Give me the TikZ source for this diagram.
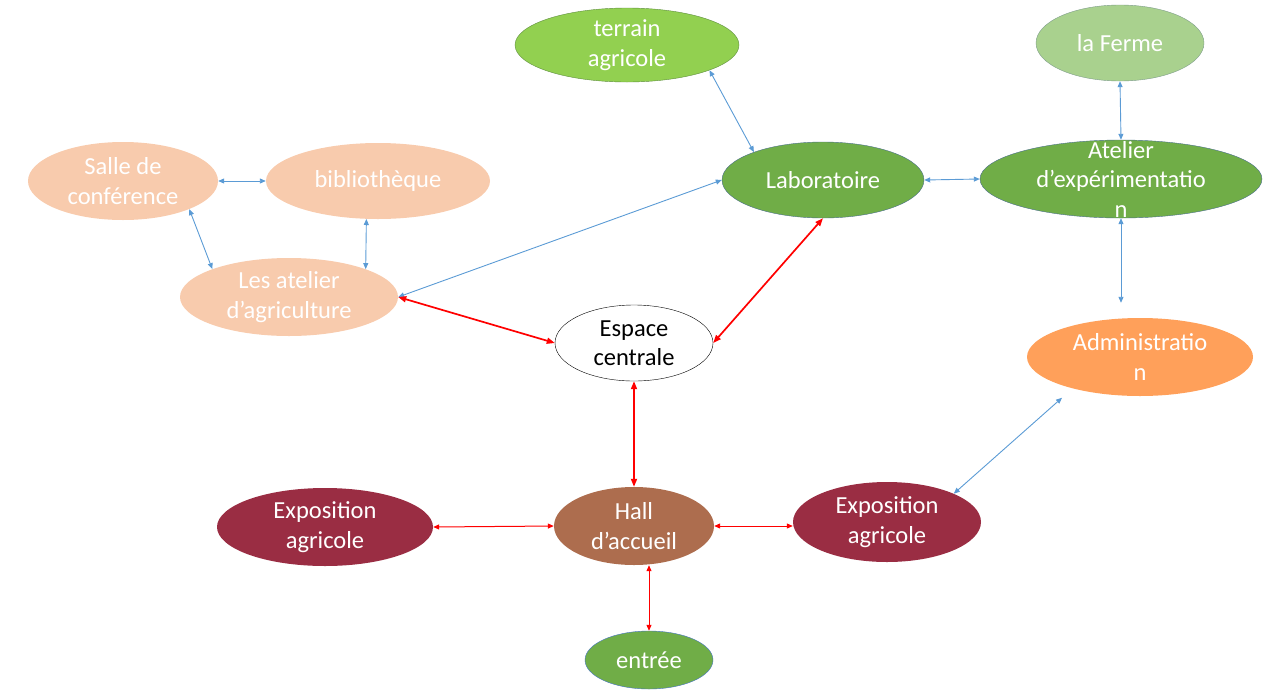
\documentclass[tikz,border=0pt]{standalone}
\usepackage{fontspec}
\setmainfont{Carlito}
\usetikzlibrary{arrows.meta,shapes.geometric}
\definecolor{PlanPeach}{HTML}{F8CBAD}
\definecolor{PlanLime}{HTML}{92D050}
\definecolor{PlanLimeEdge}{HTML}{5E8E3E}
\definecolor{PlanSage}{HTML}{A9D18E}
\definecolor{PlanSageEdge}{HTML}{7D9C8A}
\definecolor{PlanGreen}{HTML}{70AD47}
\definecolor{PlanGreenEdge}{HTML}{4A6F8A}
\definecolor{PlanOrange}{HTML}{FFA05A}
\definecolor{PlanWine}{HTML}{9A2D43}
\definecolor{PlanBrown}{HTML}{AD6D4E}
\definecolor{PlanBlue}{HTML}{5B9BD5}
\definecolor{PlanEdgeBlue}{HTML}{4472C4}
\definecolor{PlanRed}{HTML}{FF0000}
\tikzset{
  every node/.style={font=\fontsize{24.5}{29.5}\selectfont},
  room/.style 2 args={ellipse, inner sep=0pt, minimum width=#1, minimum height=#2},
  roomtext/.style={text=white, align=center},
  link/.style={{Triangle[length=6pt,width=5pt]}-{Triangle[length=6pt,width=5pt]}, draw=PlanBlue, line width=0.9pt},
  mainlink/.style={{Triangle[length=8pt,width=6pt]}-{Triangle[length=8pt,width=6pt]}, draw=PlanRed, line width=1.7pt},
  sidelink/.style={{Triangle[length=6pt,width=5pt]}-{Triangle[length=6pt,width=5pt]}, draw=PlanRed, line width=1pt},
}

\begin{document}
\begin{tikzpicture}[x=1pt,y=-1pt]
  % page = 1288 x 689, y grows downwards
  \useasboundingbox (0,0) rectangle (1288,689);
  % left wing
  \node[room={190pt}{78pt}, fill=PlanPeach, label={[roomtext]center:{Salle de\\conférence}}] (salle) at (123,181) {};
  \node[room={224pt}{76pt}, fill=PlanPeach, label={[roomtext]center:bibliothèque}] (biblio) at (378,181) {};
  \node[room={218pt}{78pt}, fill=PlanPeach, label={[roomtext]center:{Les atelier\\d’agriculture}}] (atelier) at (289,297) {};
  % right wing
  \node[room={224pt}{74pt}, fill=PlanLime, draw=PlanLimeEdge, label={[roomtext]center:{terrain\\agricole}}] (terrain) at (627,45) {};
  \node[room={168pt}{76pt}, fill=PlanSage, draw=PlanSageEdge, label={[roomtext]center:la Ferme}] (ferme) at (1120,43) {};
  \node[room={202pt}{76pt}, fill=PlanGreen, draw=PlanGreenEdge, label={[roomtext]center:Laboratoire}] (labo) at (823,180) {};
  \node[room={282pt}{78pt}, fill=PlanGreen, draw=PlanGreenEdge, label={[roomtext]center:{Atelier\\d’expérimentatio\\n}}] (atexp) at (1121,179) {};
  \node[room={226pt}{78pt}, fill=PlanOrange, label={[roomtext]center:{Administratio\\n}}] (admin) at (1140,357) {};
  % centre and entrance
  \node[room={158pt}{76pt}, fill=white, draw=black, label={[roomtext, text=black]center:{Espace\\centrale}}] (espace) at (634,343) {};
  \node[room={160pt}{78pt}, fill=PlanBrown, label={[roomtext]center:{Hall\\d’accueil}}] (hall) at (634,526) {};
  \node[room={216pt}{78pt}, fill=PlanWine, label={[roomtext]center:{Exposition\\agricole}}] (expoleft) at (325,527) {};
  \node[room={188pt}{80pt}, fill=PlanWine, label={[roomtext]center:{Exposition\\agricole}}] (exporight) at (887,522) {};
  \node[room={128pt}{58pt}, fill=PlanGreen, draw=PlanEdgeBlue, label={[roomtext]center:entrée}] (entree) at (649,660) {};
  % blue links
  \draw[link] (salle.east) -- (biblio.west);
  \draw[link] (salle.-23) -- (atelier.160);
  \draw[link] (biblio.-107) -- (atelier.20);
  \draw[link] (labo.west) -- (atelier.east);
  \draw[link] (terrain.-17) -- (labo.158);
  \draw[link] (labo.east) -- (atexp.west);
  \draw[link] (ferme.south) -- (atexp.north);
  \draw[link, shorten >=15pt] (atexp.south) -- (atexp.south |- admin.north);
  \draw[link, shorten >=14pt] (exporight.23) -- (admin.205);
  % red links
  \draw[mainlink] (atelier.east) -- (espace.west);
  \draw[mainlink] (labo.south) -- (espace.east);
  \draw[mainlink] (espace.south) -- (hall.north);
  \draw[sidelink] (expoleft.east) -- (hall.west);
  \draw[sidelink] (hall.east) -- (hall.east -| exporight.west);
  \draw[sidelink] (hall.south -| entree.north) -- (entree.north);
\end{tikzpicture}
\end{document}
